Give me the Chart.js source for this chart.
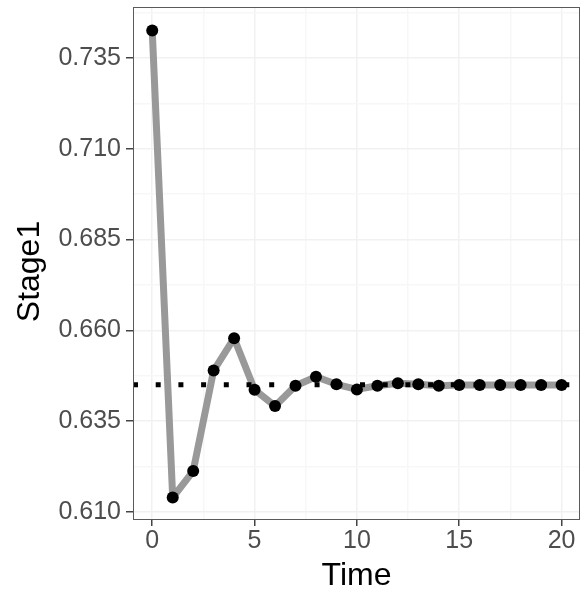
<!DOCTYPE html>
<html>
<head>
<meta charset="utf-8">
<script src="https://cdn.jsdelivr.net/npm/chart.js@4"></script>
<style>
  body { margin: 0; background: #fff; }
  canvas { display: block; }
</style>
</head>
<body>
<canvas id="chart" width="581" height="595"></canvas>
<script>
// values
const timeSteps = [0, 1, 2, 3, 4, 5, 6, 7, 8, 9, 10, 11, 12, 13, 14, 15, 16, 17, 18, 19, 20];
const stage1 = [0.7426, 0.6139, 0.6212, 0.6489, 0.6578, 0.6436, 0.6391, 0.6447, 0.6472, 0.6451, 0.6437,
                0.6447, 0.6454, 0.6451, 0.6447, 0.6449, 0.6449, 0.6449, 0.6449, 0.6449, 0.6449];
const refLevel = 0.645;
const yTicks = [0.610, 0.635, 0.660, 0.685, 0.710, 0.735];
const xTicks = [0, 5, 10, 15, 20];

const xMin = -0.94, xMax = 20.9;
const yMin = 0.6077, yMax = 0.7491;

// major + minor (midpoint) ticks, ggplot style
function withMinor(major, lo, hi) {
    const step = major[1] - major[0];
    let out = [];
    for (let v = major[0] - step / 2; v <= major[major.length - 1] + step / 2 + 1e-9; v += step / 2) {
        if (v >= lo && v <= hi) out.push(+v.toFixed(6));
    }
    return out;
}
function isMajor(list, v) {
    return list.some(m => Math.abs(m - v) < 1e-6);
}

const font = 'Liberation Sans, Arial, sans-serif';

// panel border on top of the data, plus the y title (sits a bit below the panel centre)
const panelBorder = {
    id: 'panelBorder',
    afterDatasetsDraw(chart) {
        const a = chart.chartArea, ctx = chart.ctx;
        ctx.save();
        ctx.strokeStyle = '#5a5a5a';
        ctx.lineWidth = 1;
        ctx.strokeRect(a.left + 0.5, a.top + 0.5, a.right - a.left - 1, a.bottom - a.top - 1);
        ctx.translate(30, (a.top + a.bottom) / 2 + 8);
        ctx.rotate(-Math.PI / 2);
        ctx.fillStyle = '#000';
        ctx.font = '32px ' + font;
        ctx.textAlign = 'center';
        ctx.textBaseline = 'middle';
        ctx.fillText('Stage1', 0, 0);
        ctx.restore();
    }
};

new Chart(document.getElementById('chart'), {
    type: 'line',
    data: {
        datasets: [{
            // dotted reference level
            data: [{ x: xMin, y: refLevel }, { x: xMax, y: refLevel }],
            borderColor: '#000',
            borderWidth: 5,
            borderDash: [5, 17.7],
            borderCapStyle: 'butt',
            pointRadius: 0,
            order: 0
        }, {
            data: timeSteps.map((t, i) => ({ x: t, y: stage1[i] })),
            borderColor: '#999999',
            borderWidth: 7,
            borderJoinStyle: 'round',
            pointRadius: 6,
            pointBackgroundColor: '#000',
            pointBorderWidth: 0,
            tension: 0,
            order: 1
        }]
    },
    options: {
        responsive: false,
        animation: false,
        layout: { autoPadding: false, padding: { top: 7, right: 1, left: 0, bottom: 0 } },
        plugins: { legend: { display: false }, tooltip: { enabled: false } },
        scales: {
            x: {
                type: 'linear',
                min: xMin,
                max: xMax,
                afterBuildTicks: s => { s.ticks = withMinor(xTicks, xMin, xMax).map(v => ({ value: v })); },
                afterFit: s => { s.height = 75; s.paddingLeft = 0; s.paddingRight = 0; },
                border: { display: false },
                grid: {
                    color: c => isMajor(xTicks, c.tick.value) ? '#f1f1f1' : '#f7f7f7',
                    tickColor: c => isMajor(xTicks, c.tick.value) ? '#444' : 'rgba(0,0,0,0)',
                    tickLength: 6,
                    lineWidth: 1.5
                },
                ticks: {
                    autoSkip: false,
                    maxRotation: 0,
                    padding: 0,
                    color: '#4d4d4d',
                    font: { family: font, size: 25 },
                    callback: v => isMajor(xTicks, v) ? String(v) : ''
                },
                title: {
                    display: true,
                    text: 'Time',
                    color: '#000',
                    font: { family: font, size: 32 },
                    padding: { top: 4, bottom: 0 }
                }
            },
            y: {
                type: 'linear',
                min: yMin,
                max: yMax,
                afterBuildTicks: s => { s.ticks = withMinor(yTicks, yMin, yMax).map(v => ({ value: v })); },
                afterFit: s => { s.width = 133; s.paddingTop = 0; s.paddingBottom = 0; },
                border: { display: false },
                grid: {
                    color: c => isMajor(yTicks, c.tick.value) ? '#f1f1f1' : '#f7f7f7',
                    tickColor: c => isMajor(yTicks, c.tick.value) ? '#444' : 'rgba(0,0,0,0)',
                    tickLength: 7,
                    lineWidth: 1.5
                },
                ticks: {
                    autoSkip: false,
                    padding: 5,
                    color: '#4d4d4d',
                    font: { family: font, size: 25 },
                    callback: v => isMajor(yTicks, v) ? v.toFixed(3) : ''
                },
                title: { display: false }
            }
        }
    },
    plugins: [panelBorder]
});
</script>
</body>
</html>
